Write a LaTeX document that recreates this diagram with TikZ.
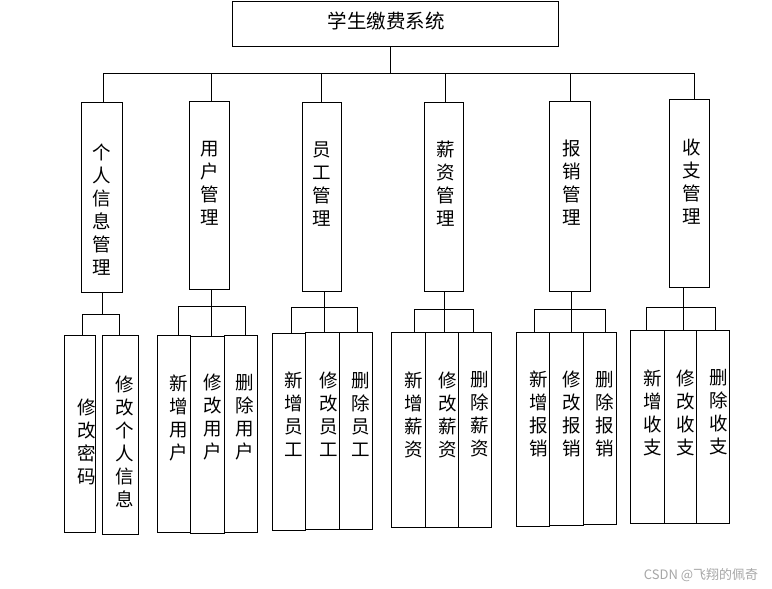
\documentclass[tikz,border=0pt]{standalone}
\usepackage{fontspec}
\newfontfamily\cjk{Noto Sans CJK SC}
\usetikzlibrary{fit}
\tikzset{
  x=1pt,y=-1pt,
  boxnode/.style={draw, line width=0.95pt, inner sep=0pt},
  vt/.style={align=center, inner sep=0pt, font=\cjk\fontsize{18.5}{23}\selectfont},
  link/.style={line width=0.95pt},
}
\newcommand{\bx}[5]{\node[boxnode, fit={(#2,#3) (#4,#5)}] (#1) {};}
\begin{document}
\begin{tikzpicture}
\useasboundingbox (0,0) rectangle (772,589);
% root
\bx{root}{232}{1.5}{558}{46}
\node[inner sep=0pt, font=\cjk\fontsize{19.5}{19.5}\selectfont] (roott) at (386,21) {学生缴费系统};
% level 2
\bx{b1}{81.3}{102.3}{122.3}{292.3}
\bx{b2}{189.3}{101.3}{229.7}{289.3}
\bx{b3}{302.3}{102.3}{341.7}{291}
\bx{b4}{424.3}{102.3}{463.3}{291}
\bx{b5}{549.3}{101.3}{590.3}{291}
\bx{b6}{669.3}{99.3}{709.3}{287.3}
\node[vt] (t1) at (102,210) {个\\人\\信\\息\\管\\理};
\node[vt] (t2) at (210,183) {用\\户\\管\\理};
\node[vt] (t3) at (322,184) {员\\工\\管\\理};
\node[vt] (t4) at (445.7,184) {薪\\资\\管\\理};
\node[vt] (t5) at (571.7,183) {报\\销\\管\\理};
\node[vt] (t6) at (692,182) {收\\支\\管\\理};
% bus level 1
\coordinate (bL) at (103.3,73);
\coordinate (bR) at (694.7,73);
\draw[link] (root.south -| 390,0) -- (390,73);
\draw[link] (b1.north -| bL) -- (bL) -- (bR) -- (b6.north -| bR);
\draw[link] (211.7,73) -- (b2.north -| 211.7,0);
\draw[link] (321.7,73) -- (b3.north -| 321.7,0);
\draw[link] (445.3,73) -- (b4.north -| 445.3,0);
\draw[link] (570.7,73) -- (b5.north -| 570.7,0);
% level 3 boxes
\bx{l11}{64.7}{335.7}{95.3}{532.7}
\bx{l12}{102.3}{335.7}{138.3}{534.3}
\bx{l21}{157.7}{335.7}{190.7}{532.3}
\bx{l22}{190.7}{336.3}{224.3}{533.3}
\bx{l23}{224.3}{335.7}{257.3}{532.3}
\bx{l31}{272.3}{333.3}{305.3}{530}
\bx{l32}{305.3}{332.3}{339.3}{529}
\bx{l33}{339.3}{332.3}{372.3}{529}
\bx{l41}{391.7}{332.3}{425.7}{527.3}
\bx{l42}{425.7}{332.3}{458.7}{527.3}
\bx{l43}{458.7}{332.3}{491.3}{527.3}
\bx{l51}{516.3}{332.3}{549.7}{526.7}
\bx{l52}{549.7}{332.3}{583.3}{525.3}
\bx{l53}{583.3}{332.3}{616.3}{524.3}
\bx{l61}{630.3}{330.3}{664.3}{523.3}
\bx{l62}{664.3}{330.3}{696.3}{523.3}
\bx{l63}{696.3}{330.3}{729.3}{523.3}
% level 3 texts
\node[vt] (s11) at (86.7,442) {修\\改\\密\\码};
\node[vt] (s12) at (125,442) {修\\改\\个\\人\\信\\息};
\node[vt] (s21) at (178.3,417.5) {新\\增\\用\\户};
\node[vt] (s22) at (212.7,417.5) {修\\改\\用\\户};
\node[vt] (s23) at (245,417.5) {删\\除\\用\\户};
\node[vt] (s31) at (294,414.5) {新\\增\\员\\工};
\node[vt] (s32) at (328.3,414.5) {修\\改\\员\\工};
\node[vt] (s33) at (360.7,414.5) {删\\除\\员\\工};
\node[vt] (s41) at (414,414.5) {新\\增\\薪\\资};
\node[vt] (s42) at (447.3,414.5) {修\\改\\薪\\资};
\node[vt] (s43) at (480,414.5) {删\\除\\薪\\资};
\node[vt] (s51) at (538.3,414) {新\\增\\报\\销};
\node[vt] (s52) at (571.7,414) {修\\改\\报\\销};
\node[vt] (s53) at (605,414) {删\\除\\报\\销};
\node[vt] (s61) at (652.7,412.5) {新\\增\\收\\支};
\node[vt] (s62) at (685.7,412.5) {修\\改\\收\\支};
\node[vt] (s63) at (718.3,412.5) {删\\除\\收\\支};
% group 1
\draw[link] (b1.south -| 102.3,0) -- (102.3,314);
\draw[link] (l11.north -| 82.3,0) -- (82.3,314) -- (119.3,314) -- (l12.north -| 119.3,0);
% group 2
\draw[link] (b2.south -| 211.7,0) -- (l22.north -| 211.7,0);
\draw[link] (l21.north -| 178.3,0) -- (178.3,306.7) -- (245.3,306.7) -- (l23.north -| 245.3,0);
% group 3
\draw[link] (b3.south -| 324.3,0) -- (l32.north -| 324.3,0);
\draw[link] (l31.north -| 291.7,0) -- (291.7,307.3) -- (357.3,307.3) -- (l33.north -| 357.3,0);
% group 4
\draw[link] (b4.south -| 444.3,0) -- (l42.north -| 444.3,0);
\draw[link] (l41.north -| 414.3,0) -- (414.3,309.3) -- (473.3,309.3) -- (l43.north -| 473.3,0);
% group 5
\draw[link] (b5.south -| 571.3,0) -- (l52.north -| 571.3,0);
\draw[link] (l51.north -| 534.7,0) -- (534.7,309.3) -- (605.3,309.3) -- (l53.north -| 605.3,0);
% group 6
\draw[link] (b6.south -| 683.3,0) -- (l62.north -| 683.3,0);
\draw[link] (l61.north -| 646,0) -- (646,307.3) -- (715.3,307.3) -- (l63.north -| 715.3,0);
% watermark
\node[inner sep=0pt, text=black!35, font=\cjk\fontsize{13}{13}\selectfont] (wm) at (701,575) {CSDN @飞翔的佩奇};
\end{tikzpicture}
\end{document}
